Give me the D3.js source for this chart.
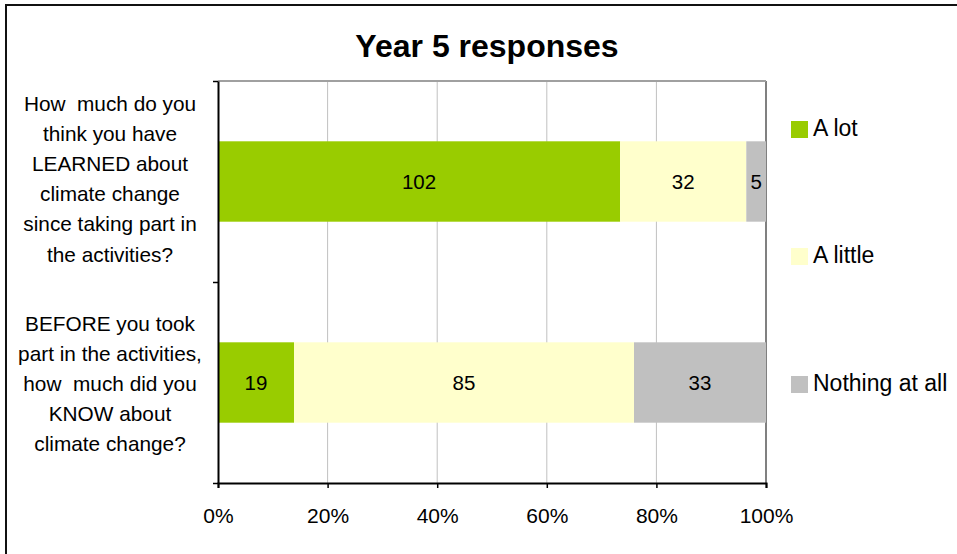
<!DOCTYPE html>
<html><head><meta charset="utf-8">
<script src="https://cdn.jsdelivr.net/npm/d3@7"></script>
<style>body{margin:0;background:#fff;font-family:"Liberation Sans",Arial,sans-serif}</style>
</head><body>
<svg id="c" width="957" height="554"></svg>
<script>
const title = "Year 5 responses";
const categories = [
  ["How  much do you","think you have","LEARNED about","climate change","since taking part in","the activities?"],
  ["BEFORE you took","part in the activities,","how  much did you","KNOW about","climate change?"]
];
const seriesNames = ["A lot","A little","Nothing at all"];
const seriesColors = ["#99CC00","#FFFFCC","#C0C0C0"];
const valuesALot = [102, 19];
const valuesALittle = [32, 85];
const valuesNothing = [5, 33];
const tickValues = [0, 0.2, 0.4, 0.6, 0.8, 1.0];

const svg = d3.select("#c");
svg.append("rect").attr("x",6).attr("y",5).attr("width",1000).attr("height",600)
  .attr("fill","#fff").attr("stroke","#111").attr("stroke-width",2);

const L=218, R=766, T=81, B=483;
const x = d3.scaleLinear().domain([0,1]).range([L,R]);
const y = d3.scaleBand().domain([0,1]).range([T,B]).paddingInner(0.6).paddingOuter(0.3);

svg.append("text").attr("x",487).attr("y",57).attr("text-anchor","middle")
  .attr("font-size",32).attr("font-weight","bold").text(title);

// gridlines
svg.append("g").selectAll("line").data(tickValues.slice(1)).join("line")
  .attr("x1",d=>x(d)).attr("x2",d=>x(d)).attr("y1",T).attr("y2",B)
  .attr("stroke",d=> d===1 ? "#808080":"#c0c0c0").attr("stroke-width",d=>d===1?2:1);
svg.append("line").attr("x1",L).attr("x2",R).attr("y1",T).attr("y2",T).attr("stroke","#a0a0a0").attr("stroke-width",2);

const rows = valuesALot.map((v,i)=>[v, valuesALittle[i], valuesNothing[i]]);
const stackData = rows.map((r,i)=>{
  const tot = d3.sum(r); let acc=0;
  return r.map((v,j)=>{const o={i,j,v,x0:acc/tot,x1:(acc+v)/tot}; acc+=v; return o;});
}).flat();

const g = svg.append("g");
g.selectAll("rect").data(stackData).join("rect")
  .attr("x",d=>x(d.x0)).attr("width",d=>x(d.x1)-x(d.x0))
  .attr("y",d=>y(d.i)).attr("height",y.bandwidth())
  .attr("fill",d=>seriesColors[d.j]);
g.selectAll("text").data(stackData).join("text")
  .attr("x",d=>(x(d.x0)+x(d.x1))/2).attr("y",d=>y(d.i)+y.bandwidth()/2+7.5)
  .attr("text-anchor","middle").attr("font-size",20.5).attr("fill","#000").text(d=>d.v);

// axes
const xa = svg.append("g").attr("transform",`translate(0,${B})`)
  .call(d3.axisBottom(x).tickValues(tickValues).tickFormat(d3.format(".0%")).tickSize(5).tickPadding(20));
xa.select(".domain").attr("stroke","#000").attr("stroke-width",2);
xa.selectAll(".tick line").attr("stroke","#000").attr("stroke-width",1.5);
xa.selectAll("text").attr("font-size",21).attr("font-family","Liberation Sans, Arial, sans-serif");

const yTicks = d3.scaleLinear().domain([0,2]).range([T,B]);
const ya = svg.append("g").attr("transform",`translate(${L},0)`)
  .call(d3.axisLeft(yTicks).tickValues([0,1,2]).tickFormat("").tickSize(5).tickSizeOuter(0));
ya.select(".domain").attr("stroke","#000").attr("stroke-width",2);
ya.selectAll(".tick line").attr("stroke","#000").attr("stroke-width",1.5);

// category labels
const catTop = [103, 323];
categories.forEach((lines,i)=>{
  const t = svg.append("text").attr("text-anchor","middle").attr("font-size",20.8)
    .attr("xml:space","preserve").style("white-space","pre");
  lines.forEach((s,k)=>t.append("tspan").attr("x",110).attr("y",catTop[i]+k*30.2+7.5).text(s));
});

// legend
const legY = [128, 255, 383];
const lg = svg.append("g");
seriesNames.forEach((n,i)=>{
  lg.append("rect").attr("x",791).attr("y",legY[i]-7).attr("width",17).attr("height",17).attr("fill",seriesColors[i]);
  lg.append("text").attr("x",813).attr("y",legY[i]+8).attr("font-size",23).text(n);
});
</script>
</body></html>
